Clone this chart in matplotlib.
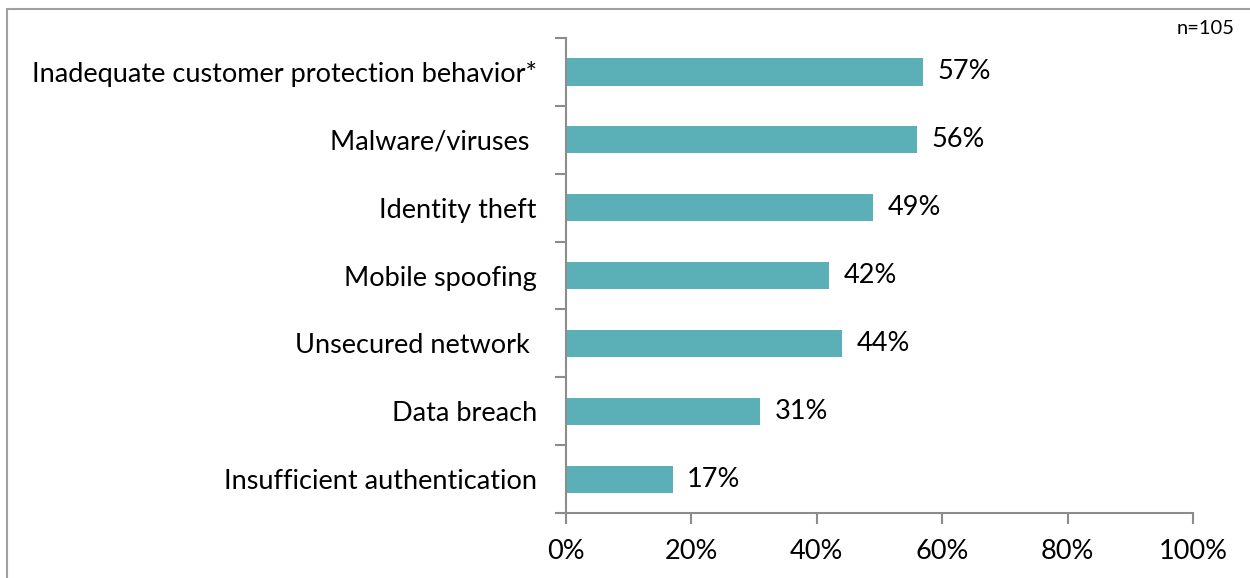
import matplotlib.pyplot as plt
from matplotlib.patches import Rectangle
from matplotlib.ticker import FixedLocator

# survey results, top to bottom
categories = [
    "Inadequate customer protection behavior*",
    "Malware/viruses ",
    "Identity theft",
    "Mobile spoofing",
    "Unsecured network ",
    "Data breach",
    "Insufficient authentication",
]
values = [57, 56, 49, 42, 44, 31, 17]
xticks = [0, 20, 40, 60, 80, 100]

plt.rcParams["font.family"] = ["Lato", "DejaVu Sans"]
fs = 19.5

fig = plt.figure(figsize=(12.5, 5.78), dpi=100)
ax = fig.add_axes([566 / 1250, 1 - 513 / 578, (1193 - 566) / 1250, (513 - 38) / 578])

n = len(categories)
ypos = list(range(n - 1, -1, -1))
ax.barh(ypos, values, height=0.4, color="#5BB0B8")

for y, v in zip(ypos, values):
    ax.text(v + 2.3, y, f"{v}%", va="center", ha="left", fontsize=fs)

ax.set_xlim(0, 100)
ax.set_ylim(-0.5, n - 0.5)
ax.set_xticks(xticks)
ax.set_xticklabels([f"{t}%" for t in xticks], fontsize=fs)
ax.set_yticks(ypos)
ax.set_yticklabels(categories, fontsize=fs)
ax.tick_params(axis="y", length=0, pad=21)
ax.yaxis.set_minor_locator(FixedLocator([i - 0.5 for i in range(n + 1)]))
ax.tick_params(axis="y", which="minor", length=8, width=1.5, color="#8C8C8C")
ax.tick_params(axis="x", length=8, width=1.5, color="#8C8C8C", pad=11)

for side in ["top", "right"]:
    ax.spines[side].set_visible(False)
for side in ["left", "bottom"]:
    ax.spines[side].set_color("#8C8C8C")
    ax.spines[side].set_linewidth(1.5)

fig.text(1235 / 1250, 1 - 28 / 578, "n=105", ha="right", va="center", fontsize=14.5)

# chart-area frame
fig.patches.append(Rectangle((7 / 1250, -0.05), 1.1, 1 - 9 / 578 + 0.05,
                             transform=fig.transFigure, fill=False,
                             edgecolor="#A0A0A0", linewidth=1.5))

fig.savefig("out.png", dpi=100)
